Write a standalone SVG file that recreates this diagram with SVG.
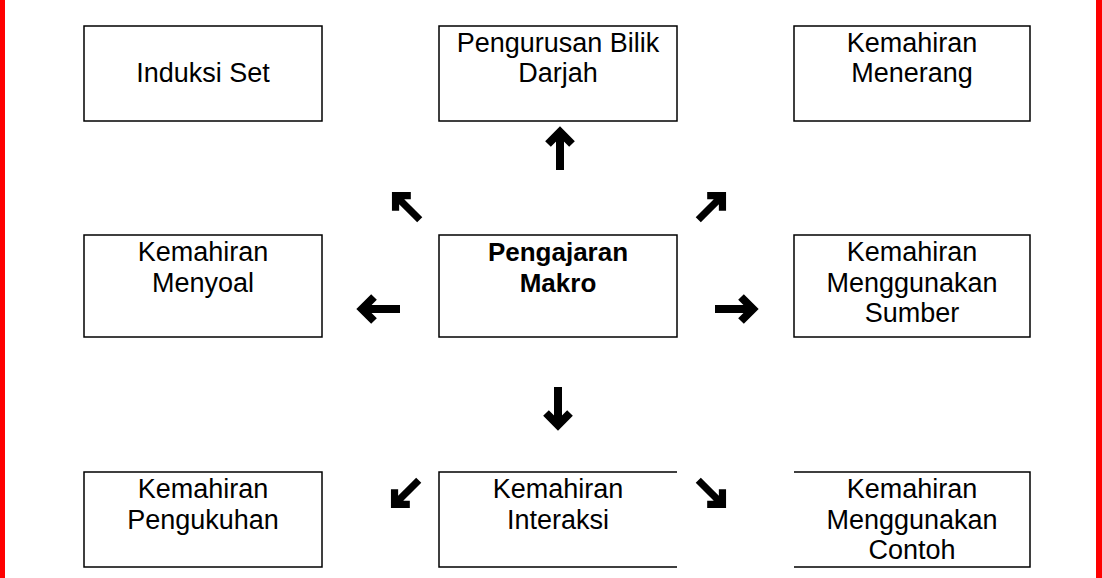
<svg xmlns="http://www.w3.org/2000/svg" width="1102" height="578" viewBox="0 0 1102 578">
<style>
.b{fill:#fff;stroke:#000;stroke-width:1.5}
.e{fill:none;stroke:#000;stroke-width:1.5}
text{font-family:"Liberation Sans",Arial,sans-serif;font-size:27px;text-anchor:middle;fill:#000}
.bold{font-weight:bold;font-size:26px}
.a{fill:none;stroke:#000;stroke-width:8;stroke-linejoin:miter;stroke-miterlimit:10}
</style>
<defs>
<path id="arr" d="M-12,-6 L0,-18 L12,-6 M0,-17 V20"/>
</defs>
<rect x="0" y="0" width="1102" height="578" fill="#fff"/>
<rect x="0" y="0" width="5" height="578" fill="#f00"/>
<rect x="1096" y="0" width="6" height="578" fill="#f00"/>
<g id="n1"><rect class="b" x="84" y="26" width="238" height="95"/><text x="203" y="82">Induksi Set</text></g>
<g id="n2"><rect class="b" x="439" y="26" width="238" height="95"/><text x="558" y="52">Pengurusan Bilik</text><text x="558" y="82">Darjah</text></g>
<g id="n3"><rect class="b" x="794" y="26" width="236" height="95"/><text x="912" y="52">Kemahiran</text><text x="912" y="82">Menerang</text></g>
<g id="n4"><rect class="b" x="84" y="235" width="238" height="102"/><text x="203" y="261">Kemahiran</text><text x="203" y="292">Menyoal</text></g>
<g id="n5"><rect class="b" x="439" y="235" width="238" height="102"/><text class="bold" x="558" y="261">Pengajaran</text><text class="bold" x="558" y="292">Makro</text></g>
<g id="n6"><rect class="b" x="794" y="235" width="236" height="102"/><text x="912" y="261">Kemahiran</text><text x="912" y="292">Menggunakan</text><text x="912" y="322">Sumber</text></g>
<g id="n7"><rect class="b" x="84" y="472" width="238" height="95"/><text x="203" y="498">Kemahiran</text><text x="203" y="529">Pengukuhan</text></g>
<g id="n8"><path class="e" d="M677,472 H439 V567 H677"/><text x="558" y="498">Kemahiran</text><text x="558" y="529">Interaksi</text></g>
<g id="n9"><path class="e" d="M794,472 H1030 V567 H794"/><text x="912" y="498">Kemahiran</text><text x="912" y="529">Menggunakan</text><text x="912" y="559">Contoh</text></g>
<g id="connectors" class="a">
<use href="#arr" transform="translate(560,150)"/>
<use href="#arr" transform="translate(407,207) rotate(-45) scale(0.9)"/>
<use href="#arr" transform="translate(711,207) rotate(45) scale(0.9)"/>
<use href="#arr" transform="translate(380,309) rotate(-90)"/>
<use href="#arr" transform="translate(735,309) rotate(90)"/>
<use href="#arr" transform="translate(558,407) rotate(180)"/>
<use href="#arr" transform="translate(406,493) rotate(-135) scale(0.9)"/>
<use href="#arr" transform="translate(711,493) rotate(135) scale(0.9)"/>
</g>
</svg>
